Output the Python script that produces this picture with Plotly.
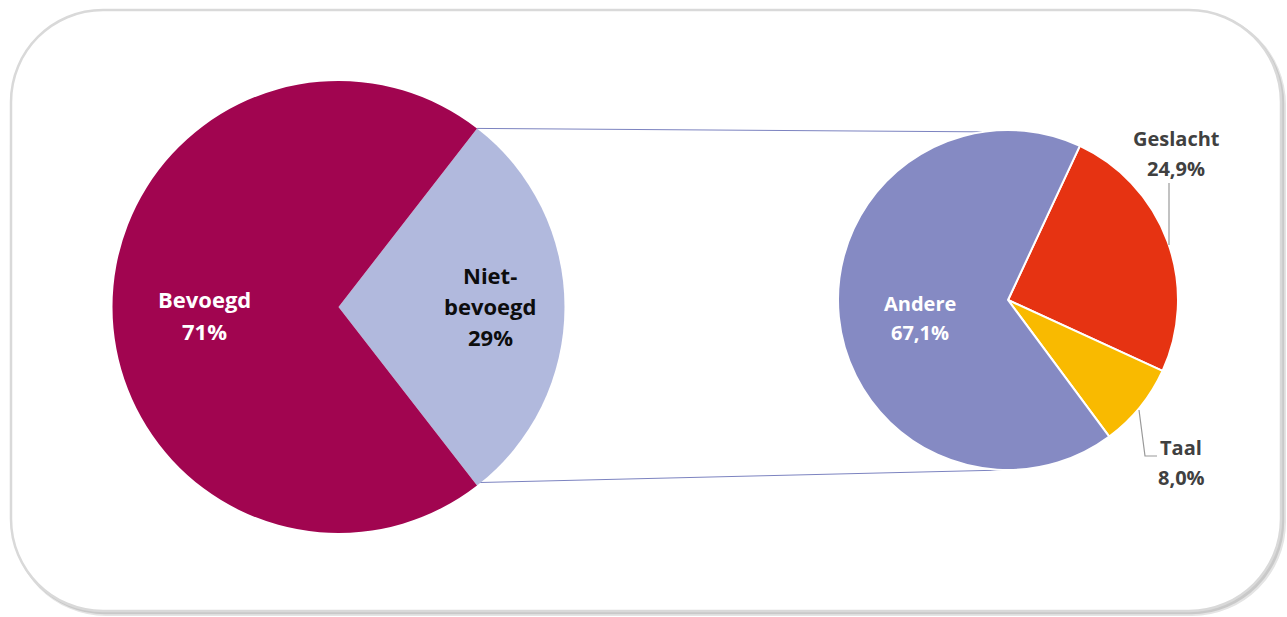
import plotly.graph_objects as go
import math

W, H = 1287, 617

# ---- data ----
main_labels = ["Niet-bevoegd", "Bevoegd"]
main_values = [29, 71]
main_colors = ["#B1B9DD", "#A10550"]

sub_labels = ["Geslacht", "Taal", "Andere"]
sub_values = [24.9, 8.0, 67.1]
sub_colors = ["#E63312", "#F9BA00", "#858AC3"]

# ---- geometry (pixels) ----
c1x, c1y, r1 = 338.5, 307, 226
c2x, c2y, r2 = 1008, 300, 170


def dom(cx, cy, r):
    return dict(x=[(cx - r) / W, (cx + r) / W], y=[(H - cy - r) / H, (H - cy + r) / H])


half = main_values[0] / sum(main_values) * 360 / 2

fig = go.Figure()
fig.add_trace(go.Pie(
    labels=main_labels, values=main_values, sort=False, direction="clockwise",
    rotation=90 - half, marker=dict(colors=main_colors, line=dict(width=0)),
    textinfo="none", hoverinfo="label+percent", domain=dom(c1x, c1y, r1), showlegend=False,
))
fig.add_trace(go.Pie(
    labels=sub_labels, values=sub_values, sort=False, direction="clockwise",
    rotation=25, marker=dict(colors=sub_colors, line=dict(width=2, color="white")),
    textinfo="none", hoverinfo="label+value", domain=dom(c2x, c2y, r2), showlegend=False,
))

# invisible pixel axes
fig.add_trace(go.Scatter(x=[0, W], y=[0, H], mode="markers", marker=dict(opacity=0),
                         hoverinfo="skip", showlegend=False))


def rrect(x0, y0, x1, y1, rr):
    k = 0.5523 * rr
    return (f"M {x0+rr},{y0} L {x1-rr},{y0} C {x1-rr+k},{y0} {x1},{y0+rr-k} {x1},{y0+rr} "
            f"L {x1},{y1-rr} C {x1},{y1-rr+k} {x1-rr+k},{y1} {x1-rr},{y1} "
            f"L {x0+rr},{y1} C {x0+rr-k},{y1} {x0},{y1-rr+k} {x0},{y1-rr} "
            f"L {x0},{y0+rr} C {x0},{y0+rr-k} {x0+rr-k},{y0} {x0+rr},{y0} Z")


shapes = []
# shadow
shapes.append(dict(type="path", path=rrect(14, 13, 1284, 614, 92), line=dict(color="#E4E4E4", width=4),
                   fillcolor="#E4E4E4", layer="below"))
shapes.append(dict(type="path", path=rrect(13, 12, 1283, 613, 92), line=dict(color="#C9C9C9", width=2.5),
                   fillcolor="#C9C9C9", layer="below"))
shapes.append(dict(type="path", path=rrect(11, 10, 1281, 611, 92), line=dict(color="#D9D9D9", width=2.5),
                   fillcolor="white", layer="below"))

# connectors
a = math.radians(half)
tx, ty = c1x + r1 * math.cos(a), c1y - r1 * math.sin(a)
bx, by = c1x + r1 * math.cos(a), c1y + r1 * math.sin(a)
shapes.append(dict(type="line", x0=tx, y0=ty, x1=c2x - 4, y1=c2y - r2 + 2,
                   line=dict(color="#7C83C0", width=1), layer="below"))
shapes.append(dict(type="line", x0=bx, y0=by - 3, x1=c2x - 3, y1=c2y + r2,
                   line=dict(color="#7C83C0", width=1), layer="below"))

# leader lines
shapes.append(dict(type="path", path="M 1169,245 L 1169,183", line=dict(color="#999999", width=1.2), layer="above"))
shapes.append(dict(type="path", path="M 1139,410 L 1145,456 L 1157,456", line=dict(color="#999999", width=1.2), layer="above"))

fig.update_layout(shapes=shapes)

FONT = "Open Sans"
ann = []


def label(x, y, lines, color, size, gap):
    n = len(lines)
    for i, t in enumerate(lines):
        ann.append(dict(x=x, y=y + (i - (n - 1) / 2) * gap, text=f"<b>{t}</b>", showarrow=False,
                        xref="x", yref="y", font=dict(family=FONT, size=size, color=color),
                        xanchor="center", yanchor="middle"))


pct_main = [f"{round(v / sum(main_values) * 100)}%" for v in main_values]
pct_sub = [f"{v:.1f}".replace(".", ",") + "%" for v in sub_values]

label(204, 315, [main_labels[1], pct_main[1]], "white", 22, 32)
label(490, 306, ["Niet-", "bevoegd", pct_main[0]], "#0D0D0D", 22, 31)
label(920, 318, [sub_labels[2], pct_sub[2]], "white", 20, 29)
label(1176, 153, [sub_labels[0], pct_sub[0]], "#404040", 20, 30)
label(1181, 462, [sub_labels[1], pct_sub[1]], "#404040", 20, 30)

fig.update_layout(
    annotations=ann,
    width=W, height=H, margin=dict(l=0, r=0, t=0, b=0),
    paper_bgcolor="white", plot_bgcolor="rgba(0,0,0,0)",
    xaxis=dict(range=[0, W], visible=False, fixedrange=True),
    yaxis=dict(range=[H, 0], visible=False, fixedrange=True),
)

fig.write_html("out.html", post_script="document.body.style.margin='0px';",
               config={"displayModeBar": False})
